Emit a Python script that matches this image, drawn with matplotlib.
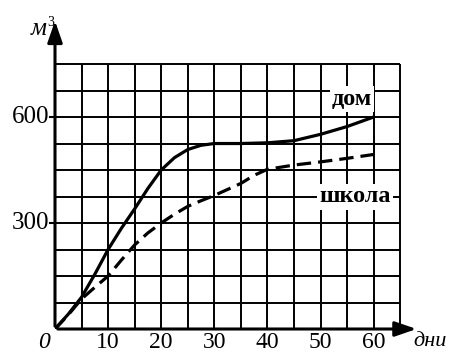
import matplotlib.pyplot as plt

# дни (days) and volume
days_home = [0, 2.5, 5, 7.5, 10, 12.5, 15, 17.5, 20, 22.5, 25, 27.5, 30, 35, 40, 45, 50, 55, 60]
vol_home = [0, 42, 90, 155, 225, 285, 340, 398, 450, 485, 508, 520, 525, 525, 527, 533, 551, 573, 600]

days_school = [0, 2.5, 5, 7.5, 10, 12.5, 15, 17.5, 20, 22.5, 25, 27.5, 30, 35, 37.5, 40, 45, 50, 55, 60]
vol_school = [0, 40, 85, 118, 150, 195, 238, 272, 300, 325, 347, 363, 378, 412, 435, 452, 464, 473, 483, 494]

x_ticks = [10, 20, 30, 40, 50, 60]
y_ticks = [300, 600]

plt.rcParams['font.family'] = ['Liberation Serif', 'DejaVu Serif']

fig = plt.figure(figsize=(4.53, 3.53), dpi=100)
# data 0..68 x 0..900 mapped to pixel box
ax = fig.add_axes([55 / 453, (353 - 329) / 353, 68 * 5.31 / 453, 900 * 0.3533 / 353])
ax.set_xlim(0, 68)
ax.set_ylim(0, 900)
ax.axis('off')

# grid inside 0..65 x 0..750
for gx in range(5, 70, 5):
    ax.vlines(gx, 0, 750, color='black', lw=1.4)
for gy in range(75, 825, 75):
    ax.hlines(gy, 0, 65, color='black', lw=1.4)

# axes with arrows
ax.annotate('', xy=(0, 880), xytext=(0, 0),
            arrowprops=dict(arrowstyle='-|>,head_length=1.3,head_width=0.45', color='black', lw=2.2))
ax.annotate('', xy=(68.6, 0), xytext=(0, 0),
            arrowprops=dict(arrowstyle='-|>,head_length=1.3,head_width=0.45', color='black', lw=2.2),
            annotation_clip=False)

ax.plot(days_home, vol_home, color='black', lw=2.3, solid_capstyle='round', zorder=3)
ax.plot(days_school, vol_school, color='black', lw=2.3, ls=(0, (4.5, 2.2)), zorder=3)

for t in x_ticks:
    ax.text(t, -9, str(t), ha='center', va='top', fontsize=17, clip_on=False)
for t in y_ticks:
    ax.text(-1.0, t, str(t), ha='right', va='center', fontsize=18, clip_on=False)
    ax.plot([-1, 0], [t, t], color='black', lw=1.5, clip_on=False)

ax.text(-1.0, -9, '0', ha='right', va='top', fontsize=17, style='italic', clip_on=False)
ax.text(-1.6, 832, 'м', ha='right', va='baseline', fontsize=18, style='italic', clip_on=False)
ax.text(-1.5, 850, '3', ha='left', va='bottom', fontsize=10, clip_on=False)
ax.text(67.4, -34, 'дни', ha='left', va='center', fontsize=16, style='italic', clip_on=False)

box = dict(facecolor='white', edgecolor='none', pad=1.5)
ax.text(55.9, 651, 'дом', ha='center', va='center', fontsize=17.5, fontweight='bold', bbox=box, zorder=4)
ax.text(56.5, 374, 'школа', ha='center', va='center', fontsize=17.5, fontweight='bold', bbox=box, zorder=4)

fig.savefig('out.png', dpi=100)
